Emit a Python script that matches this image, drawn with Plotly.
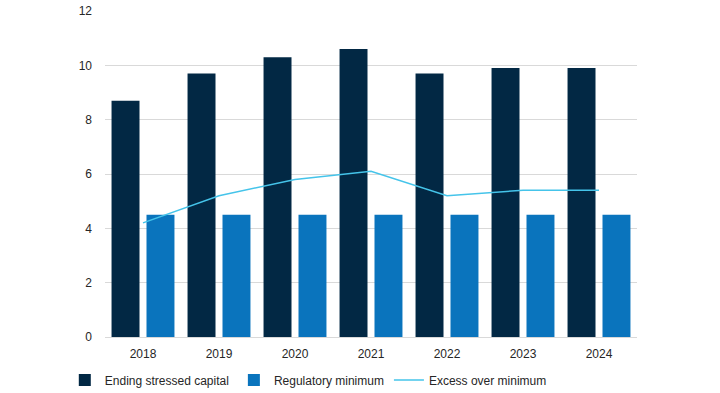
import plotly.graph_objects as go

years = ["2018", "2019", "2020", "2021", "2022", "2023", "2024"]
ending_capital = [8.7, 9.7, 10.3, 10.6, 9.7, 9.9, 9.9]
reg_minimum = [4.5, 4.5, 4.5, 4.5, 4.5, 4.5, 4.5]
excess = [4.2, 5.2, 5.8, 6.1, 5.2, 5.4, 5.4]
y_ticks = [0, 2, 4, 6, 8, 10, 12]

font = dict(family="Liberation Sans, Arial, sans-serif", size=12, color="#262626")

fig = go.Figure()
fig.add_trace(go.Bar(x=years, y=ending_capital, name="Ending stressed capital",
                     marker=dict(color="#022844", line=dict(width=0))))
fig.add_trace(go.Bar(x=years, y=reg_minimum, name="Regulatory minimum",
                     marker=dict(color="#0A74BD", line=dict(width=0))))
fig.add_trace(go.Scatter(x=years, y=excess, name="Excess over minimum", mode="lines",
                         line=dict(color="#45C4EA", width=1.5)))

fig.update_layout(
    width=720, height=393,
    margin=dict(l=105, r=83, t=10.5, b=55.5, autoexpand=False),
    paper_bgcolor="white", plot_bgcolor="white",
    font=font,
    barmode="group", bargap=0.08, bargroupgap=0.2,
    showlegend=True,
    legend=dict(orientation="h", xref="container", x=0.09, xanchor="left",
                yref="container", y=0.033, yanchor="middle",
                font=font, itemwidth=30, traceorder="normal",
                bgcolor="rgba(0,0,0,0)"),
    xaxis=dict(showgrid=False, showline=False, ticks="", tickfont=font,
               ticklabelstandoff=8),
    yaxis=dict(range=[0, 12], tickvals=y_ticks, showgrid=True, gridcolor="#D9D9D9",
               gridwidth=1, zeroline=True, zerolinecolor="#D9D9D9", zerolinewidth=1,
               showline=False, ticks="", tickfont=font, ticklabelstandoff=12),
)

fig.write_html("out.html", config={"displayModeBar": False},
               post_script="document.body.style.margin='0';document.body.style.overflow='hidden';")
